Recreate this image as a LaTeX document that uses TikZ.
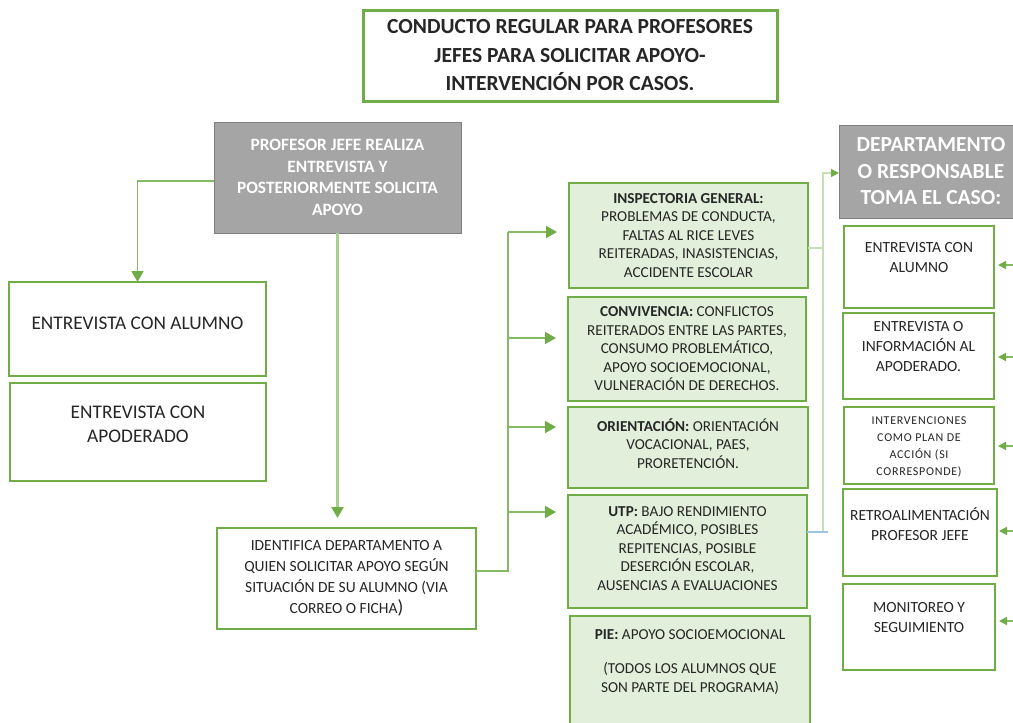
\documentclass[tikz,border=0pt]{standalone}
\usepackage{fontspec}
\setmainfont{Carlito}
\usetikzlibrary{arrows.meta}
\definecolor{gborder}{HTML}{70AD47}
\definecolor{gfill}{HTML}{E2EFDA}
\definecolor{glight}{HTML}{A9D18E}
\definecolor{gpale}{HTML}{C5E0B4}
\definecolor{grayfill}{HTML}{A5A5A5}
\definecolor{grayborder}{HTML}{7F7F7F}
\definecolor{txt}{HTML}{262626}
\definecolor{bluel}{HTML}{9DC3E6}
\begin{document}
\begin{tikzpicture}[x=1pt,y=-1pt,
  base/.style={inner sep=0pt, outer sep=0pt, align=center, text=txt},
  titlebox/.style={base, draw=gborder, line width=3pt, font=\fontsize{21.5}{28.5}\selectfont\bfseries},
  graybox/.style={base, fill=grayfill, draw=grayborder, line width=1pt, text=white},
  wbox/.style={base, draw=gborder, line width=1.2pt, fill=white},
  gbox/.style={base, draw=gborder, line width=1.2pt, fill=gfill, font=\fontsize{15.2}{18.5}\selectfont},
  rtxt/.style={align=center, text=txt, inner sep=0pt, font=\fontsize{15.5}{20}\selectfont},
  gtxt/.style={align=center, text=txt, inner sep=0pt, font=\fontsize{15.2}{18.5}\selectfont},
  tip/.style={-{Triangle[length=11pt,width=12pt,color=gborder]}},
  smalltip/.style={-{Triangle[length=8pt,width=8pt,color=gborder]}},
  conn/.style={draw=gborder!85, line width=1.6pt},
  lconn/.style={draw=glight, line width=2.4pt},
  pconn/.style={draw=gpale, line width=1.6pt},
  bconn/.style={draw=bluel, line width=1.2pt}
]
\useasboundingbox (0,0) rectangle (1013,723);

% title
\node[titlebox, minimum width=414, minimum height=91] (title) at (570,55.5)
  {CONDUCTO REGULAR PARA PROFESORES\\JEFES PARA SOLICITAR APOYO-\\INTERVENCIÓN POR CASOS.};

% profesor jefe
\node[graybox, minimum width=247, minimum height=111,
  font=\fontsize{17.3}{21.5}\selectfont\bfseries] (prof) at (337.5,177.5)
  {PROFESOR JEFE REALIZA\\ENTREVISTA Y\\POSTERIORMENTE SOLICITA\\APOYO};

% left boxes
\node[wbox, minimum width=257, minimum height=94,
  label={[rtxt, font=\fontsize{19.3}{24}\selectfont, yshift=6pt]center:ENTREVISTA CON ALUMNO}] (ea) at (137.5,329) {};
\node[wbox, minimum width=256, minimum height=98,
  label={[rtxt, font=\fontsize{19.3}{24}\selectfont, yshift=8pt]center:{ENTREVISTA CON\\APODERADO}}] (eap) at (138,432) {};

% identifica
\node[wbox, minimum width=259, minimum height=101, font=\fontsize{15.5}{21}\selectfont] (ident) at (346.5,578.5)
  {IDENTIFICA DEPARTAMENTO A\\QUIEN SOLICITAR APOYO SEGÚN\\SITUACIÓN DE SU ALUMNO (VIA\\CORREO O FICHA{\fontsize{19}{21}\selectfont )}};

% green boxes
\node[gbox, minimum width=239, minimum height=105] (insp) at (688.5,235.5)
  {\textbf{INSPECTORIA GENERAL:}\\PROBLEMAS DE CONDUCTA,\\FALTAS AL RICE LEVES\\REITERADAS, INASISTENCIAS,\\ACCIDENTE ESCOLAR};
\node[gbox, minimum width=238, minimum height=104] (conv) at (687,349)
  {\textbf{CONVIVENCIA:} CONFLICTOS\\REITERADOS ENTRE LAS PARTES,\\CONSUMO PROBLEMÁTICO,\\APOYO SOCIOEMOCIONAL,\\VULNERACIÓN DE DERECHOS.};
\node[gbox, minimum width=240, minimum height=81,
  label={[gtxt, yshift=4pt]center:{\textbf{ORIENTACIÓN:} ORIENTACIÓN\\VOCACIONAL, PAES,\\PRORETENCIÓN.}}] (ori) at (688,447.5) {};
\node[gbox, minimum width=239, minimum height=113,
  label={[gtxt, yshift=3pt]center:{\textbf{UTP:} BAJO RENDIMIENTO\\ACADÉMICO, POSIBLES\\REPITENCIAS, POSIBLE\\DESERCIÓN ESCOLAR,\\AUSENCIAS A EVALUACIONES}}] (utp) at (687.5,551.5) {};
\node[gbox, minimum width=240, minimum height=116,
  label={[gtxt, anchor=north, yshift=-13pt]north:{\textbf{PIE:} APOYO SOCIOEMOCIONAL\\[16pt](TODOS LOS ALUMNOS QUE\\SON PARTE DEL PROGRAMA)}}] (pie) at (690,674) {};

% departamento
\node[graybox, minimum width=182, minimum height=93,
  label={[text=white, align=center, inner sep=0pt, font=\fontsize{21.5}{26.5}\selectfont\bfseries, xshift=1pt]center:{DEPARTAMENTO\\O RESPONSABLE\\TOMA EL CASO:}}] (dept) at (930,171.5) {};

% right boxes
\node[wbox, minimum width=150, minimum height=82,
  label={[rtxt, yshift=9pt]center:{ENTREVISTA CON\\ALUMNO}}] (r1) at (919,267) {};
\node[wbox, minimum width=151, minimum height=86,
  label={[rtxt, yshift=9pt]center:{ENTREVISTA O\\INFORMACIÓN AL\\APODERADO.}}] (r2) at (918.5,356) {};
\node[wbox, minimum width=150, minimum height=77,
  label={[rtxt, font=\fontsize{12}{17}\selectfont\addfontfeature{LetterSpace=6}, yshift=-1pt]center:{INTERVENCIONES\\COMO PLAN DE\\ACCIÓN (SI\\CORRESPONDE)}}] (r3) at (919,445.5) {};
\node[wbox, minimum width=154, minimum height=87,
  label={[rtxt, yshift=8pt]center:{RETROALIMENTACIÓN\\PROFESOR JEFE}}] (r4) at (920,532.5) {};
\node[wbox, minimum width=152, minimum height=86,
  label={[rtxt, yshift=9pt]center:{MONITOREO Y\\SEGUIMIENTO}}] (r5) at (919,627) {};

% connectors left
\draw[conn, tip] ([yshift=-3.5pt]prof.west) -| (ea.north);
\draw[lconn, tip, shorten >=10pt] (prof.south) -- (prof.south |- ident.north);

% trunk to green boxes
\coordinate (b1) at (508,232);
\coordinate (b2) at (508,338);
\coordinate (b3) at (508,427);
\coordinate (b4) at (508,512);
\draw[conn] ([yshift=7.5pt]ident.east) -| (b1);
\draw[conn, tip, shorten >=12pt] (b1) -- (b1 -| insp.west);
\draw[conn, tip, shorten >=12pt] (b2) -- (b2 -| conv.west);
\draw[conn, tip, shorten >=12pt] (b3) -- (b3 -| ori.west);
\draw[conn, tip, shorten >=12pt] (b4) -- (b4 -| utp.west);

% right trunk
\coordinate (rt) at (823,173);
\coordinate (ri) at (823,248);
\coordinate (rb) at (823,532);
\draw[pconn] (insp.east |- ri) -- (ri);
\draw[pconn, smalltip] (rb) -- (rt) -- (rt -| dept.west);
\draw[bconn] (utp.east |- rb) -- ([xshift=5pt]rb);

% arrows from right edge
\coordinate (a1) at (1013,265);
\coordinate (a2) at (1013,357);
\coordinate (a3) at (1013,446);
\coordinate (a4) at (1013,531);
\coordinate (a5) at (1013,621);
\draw[conn, smalltip, shorten >=4pt] (a1) -- (a1 -| r1.east);
\draw[conn, smalltip, shorten >=4pt] (a2) -- (a2 -| r2.east);
\draw[conn, smalltip, shorten >=4pt] (a3) -- (a3 -| r3.east);
\draw[conn, smalltip, shorten >=2pt] (a4) -- (a4 -| r4.east);
\draw[conn, smalltip, shorten >=4pt] (a5) -- (a5 -| r5.east);
\end{tikzpicture}
\end{document}
